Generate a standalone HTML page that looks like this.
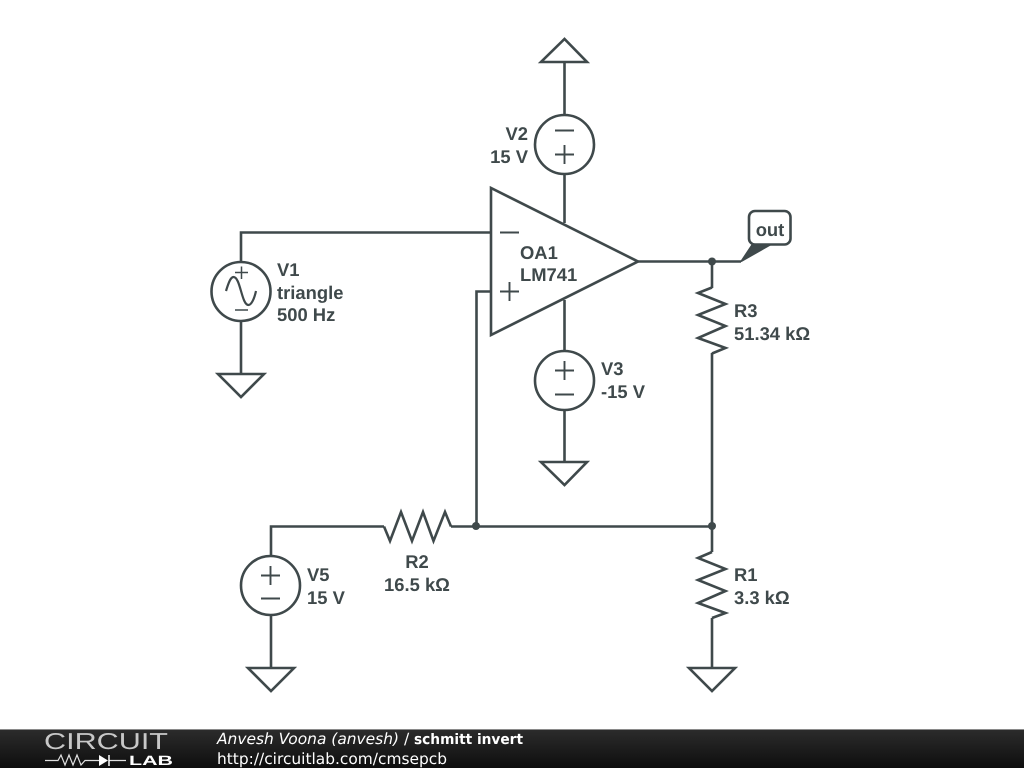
<!DOCTYPE html>
<html>
<head>
<meta charset="utf-8">
<style>
html,body{margin:0;padding:0;background:#fff;width:1024px;height:768px;overflow:hidden}
svg{display:block;position:absolute;left:0;top:0}
text{text-rendering:geometricPrecision}
.w{fill:none;stroke:#3f494b;stroke-width:2.6;stroke-linejoin:miter;stroke-linecap:butt}
.s{fill:none;stroke:#3f494b;stroke-width:1.9}
.t{font-family:"Liberation Sans",sans-serif;font-size:18.4px;font-weight:bold;fill:#3f494b}
</style>
</head>
<body>
<svg width="1024" height="768" viewBox="0 0 1024 768" xmlns="http://www.w3.org/2000/svg">
<rect width="1024" height="768" fill="#fff"/>
<!-- wires -->
<path class="w" d="M241 262V232.500H491"/>
<path class="w" d="M241 321V374"/>
<path class="w" d="M564.500 62V115M564.500 174V223"/>
<path class="w" d="M564.500 300V351M564.500 410V462"/>
<path class="w" d="M638 261.500H741"/>
<path class="w" d="M491 291.500H476.500V526"/>
<path class="w" d="M271 556V526.500H384"/>
<path class="w" d="M451 526.500H712"/>
<path class="w" d="M271 615V668"/>
<path class="w" d="M712 261.500V288"/>
<path class="w" d="M712 353V552"/>
<path class="w" d="M712 618V668"/>
<!-- grounds -->
<path class="w" d="M218 374H264L241 397Z"/>
<path class="w" d="M541 462H587L564.500 485Z"/>
<path class="w" d="M248 668H294L271 691Z"/>
<path class="w" d="M689 668H735L712 691Z"/>
<path class="w" d="M541 62H587L564.500 39Z"/>
<!-- opamp -->
<path class="w" d="M491 188V335L638 261.500Z" fill="#fff"/>
<path class="s" d="M500 232.500H519M500 291.500H519M509.500 282V301"/>
<!-- sources -->
<circle class="w" cx="241" cy="291.500" r="29.500"/>
<path class="s" style="stroke-width:1.500" d="M235 272.500H248M241.500 266.500V279M235 310H248"/>
<path class="w" style="stroke-width:2.200" d="M226 291C229 281 231 277 233.500 277C237 277 239 284 241 291C243 298 245 305 248.500 305C251 305 254 300 256 291"/>
<circle class="w" cx="564.500" cy="144.500" r="29.500"/>
<path class="s" d="M555 130.500H574M555 154.500H574M564.500 145V164"/>
<circle class="w" cx="564.500" cy="380.500" r="29.500"/>
<path class="s" d="M555 370.500H574M564.500 361V380M555 394.500H574"/>
<circle class="w" cx="270.500" cy="585.500" r="29.500"/>
<path class="s" d="M261 575.500H280M270.500 566V585M261 598.500H280"/>
<!-- resistors -->
<path class="w" d="M712 287.500L698 293L725.500 304L698 315L725.500 326L698 338L725.500 348L712 353.500"/>
<path class="w" d="M712 552L698 558L725.500 569L698 580L725.500 591L698 603L725.500 613L712 618"/>
<path class="w" d="M384 526.500L390 541L401 512L412 541L423 512L433.500 541L445 512L451 526.500"/>
<!-- junctions -->
<circle cx="712" cy="261.500" r="4" fill="#3f494b"/>
<circle cx="476" cy="526" r="4" fill="#3f494b"/>
<circle cx="712" cy="526" r="4" fill="#3f494b"/>
<!-- out tag -->
<path d="M741 261.500L752 245H770Z" fill="#3f494b" stroke="#3f494b" stroke-width="1.500"/>
<rect x="749" y="211" width="41.500" height="33.500" rx="6" fill="#fff" stroke="#3f494b" stroke-width="2.600"/>
<!-- labels -->
<text class="t" x="770" y="236" text-anchor="middle">out</text>
<text class="t" x="734" y="317">R3</text>
<text class="t" x="734" y="340">51.34 kΩ</text>
<text class="t" x="734" y="581">R1</text>
<text class="t" x="734" y="604">3.3 kΩ</text>
<text class="t" x="417" y="568" text-anchor="middle">R2</text>
<text class="t" x="417" y="591" text-anchor="middle">16.5 kΩ</text>
<text class="t" x="307" y="581">V5</text>
<text class="t" x="307" y="604">15 V</text>
<text class="t" x="601" y="375">V3</text>
<text class="t" x="601" y="398">-15 V</text>
<text class="t" x="528" y="140" text-anchor="end">V2</text>
<text class="t" x="528" y="163" text-anchor="end">15 V</text>
<text class="t" x="277" y="276">V1</text>
<text class="t" x="277" y="299">triangle</text>
<text class="t" x="277" y="321">500 Hz</text>
<text class="t" x="520" y="259">OA1</text>
<text class="t" x="520" y="281">LM741</text>
<!-- footer -->
<defs>
<linearGradient id="f" x1="0" y1="0" x2="0" y2="1">
<stop offset="0" stop-color="#2c2c2c"/>
<stop offset="1" stop-color="#0e0e0e"/>
</linearGradient>
</defs>
<rect x="0" y="729" width="1024" height="39" fill="url(#f)"/>
<rect x="0" y="729" width="1024" height="1" fill="#8a8a8a"/>
<text x="44" y="749" font-family="'Liberation Sans',sans-serif" font-size="23" fill="#c8c8c8" textLength="124" lengthAdjust="spacingAndGlyphs">CIRCUIT</text>
<text x="129" y="765" font-family="'Liberation Sans',sans-serif" font-size="13.500" font-weight="bold" fill="#fff" textLength="44" lengthAdjust="spacingAndGlyphs">LAB</text>
<path d="M45 760.500H58L61 755L65 765L69 755L73 765L77 755L81 765L85 760.500H99M109 760.500H126" fill="none" stroke="#e0e0e0" stroke-width="1.200"/>
<path d="M99 755V766L108 760.500Z" fill="#fff"/>
<path d="M109 755V766" stroke="#fff" stroke-width="1.500"/>
<text x="217" y="744" font-family="'DejaVu Sans',sans-serif" font-size="15.400" font-style="italic" fill="#fff" textLength="182" lengthAdjust="spacingAndGlyphs">Anvesh Voona (anvesh)</text>
<text x="404" y="744" font-family="'DejaVu Sans',sans-serif" font-size="15.400" fill="#fff">/</text>
<text x="414" y="744" font-family="'DejaVu Sans',sans-serif" font-size="14.500" font-weight="bold" fill="#fff" textLength="109" lengthAdjust="spacingAndGlyphs">schmitt invert</text>
<text x="217" y="764" font-family="'DejaVu Sans',sans-serif" font-size="15.400" fill="#fff" textLength="230" lengthAdjust="spacingAndGlyphs">http://circuitlab.com/cmsepcb</text>
</svg>
</body>
</html>
